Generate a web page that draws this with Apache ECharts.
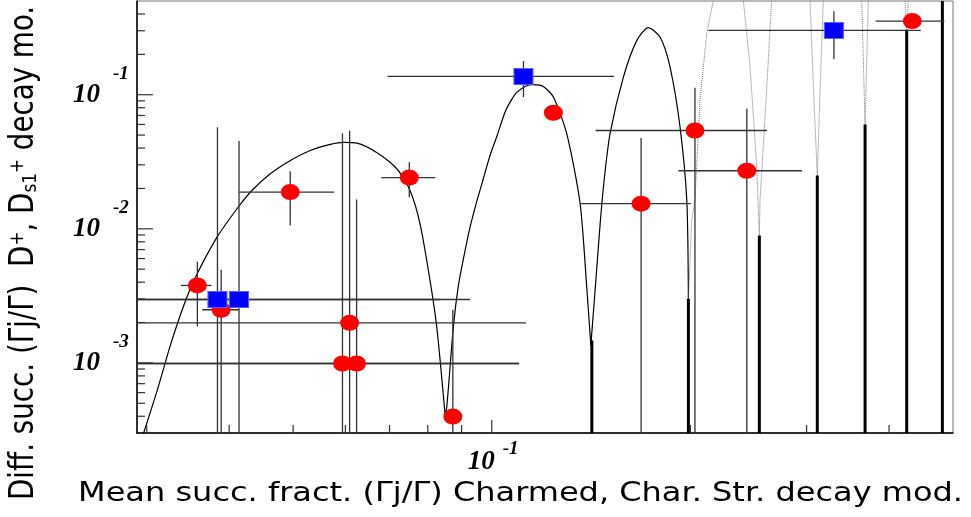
<!DOCTYPE html>
<html lang="en">
<head>
    <meta charset="UTF-8">
    <title>Diff. succ. fract.</title>
    <script src="https://cdn.jsdelivr.net/npm/echarts@6.0.0/dist/echarts.min.js"></script>
    <style>
        html, body { margin: 0; padding: 0; background: #fff; }
        #chart { width: 971px; height: 517px; }
    </style>
</head>
<body>
<div id="chart"></div>
<script>
    var xMin = 0.029, xMax = 0.5;
    var yMin = 0.0003, yMax = 0.5;

    // x, y, x low, x high, y low, y high
    var redPoints = [
        [0.0358, 0.00378, 0.0338, 0.0376, 0.00187, 0.0057],
        [0.0389, 0.00249, 0.0364, 0.0414, 0.0001, 0.00494],
        [0.0495, 0.0188, 0.0414, 0.0577, 0.0106, 0.0269],
        [0.0609, 0.00199, 0.02, 0.1127, 0.0001, 0.0542],
        [0.0594, 0.00099, 0.02, 0.1100, 0.0001, 0.0517],
        [0.0624, 0.00099, 0.02, 0.1100, 0.0001, 0.01655],
        [0.0750, 0.0241, 0.0680, 0.0821, 0.0172, 0.0313],
        [0.0873, 0.000398, 0.0873, 0.0873, 0.0001, 0.00249],
        [0.1240, 0.0734, 0.1240, 0.1240, 0.0734, 0.0734],
        [0.1684, 0.0154, 0.1364, 0.2002, 0.0001, 0.0475],
        [0.2032, 0.0541, 0.1437, 0.2613, 0.0001, 0.1127],
        [0.2435, 0.0271, 0.1918, 0.2952, 0.0001, 0.0786],
        [0.4338, 0.3541, 0.3818, 0.4852, 0.3541, 0.3541]
    ];
    var bluePoints = [
        [0.0384, 0.00297, 0.02, 0.0835, 0.0001, 0.0573],
        [0.0414, 0.00297, 0.02, 0.0927, 0.0001, 0.0451],
        [0.1117, 0.1369, 0.0695, 0.1532, 0.0960, 0.1781],
        [0.3300, 0.3019, 0.2129, 0.4467, 0.1844, 0.4186]
    ];

    // thick spikes at the zeros of the curve
    var spikeX = [0.1418, 0.1986, 0.2544, 0.3114, 0.3679, 0.4254, 0.4818];
    var spikeTop = [0.00147, 0.00300, 0.00891, 0.02498, 0.06005, 0.3055, 0.6];

    // curve, one arch at a time
    var arch1 = [[0.02965, 0.000295], [0.03111, 0.000621], [0.03258, 0.00135], [0.03414, 0.00268],
        [0.03555, 0.00433], [0.03834, 0.00866], [0.04135, 0.01467], [0.04331, 0.01931],
        [0.04617, 0.02572], [0.04953, 0.03234], [0.05310, 0.03839], [0.05693, 0.04257],
        [0.05966, 0.04406], [0.06249, 0.04353], [0.06700, 0.03692], [0.07180, 0.02804],
        [0.07519, 0.01931], [0.07786, 0.01090], [0.08063, 0.00411], [0.08255, 0.00184],
        [0.08495, 0.000418]];
    var arch2 = [[0.08495, 0.000418], [0.08546, 0.000466], [0.08745, 0.00184], [0.08901, 0.00378],
        [0.09079, 0.00632], [0.09271, 0.01028], [0.09500, 0.01627], [0.09712, 0.02373],
        [0.09940, 0.03524], [0.1019, 0.04969], [0.1047, 0.07378], [0.1070, 0.09067],
        [0.1091, 0.1040], [0.1127, 0.1163], [0.1156, 0.1188], [0.1197, 0.1153],
        [0.1240, 0.0960], [0.1299, 0.0512], [0.1361, 0.01545], [0.1393, 0.00367],
        [0.1413, 0.00135]];
    var arch3 = [[0.1413, 0.00135], [0.1436, 0.00378], [0.1459, 0.01058],
        [0.1480, 0.0229], [0.1511, 0.0512], [0.1583, 0.1353], [0.1659, 0.2542],
        [0.1727, 0.3162], [0.1799, 0.2691], [0.1863, 0.1607], [0.1929, 0.0573],
        [0.1975, 0.01627], [0.1986, 0.00292]];
    var arch4 = [[0.1986, 0.00292], [0.2009, 0.01153], [0.2032, 0.01627], [0.2068, 0.0907],
        [0.2117, 0.2852], [0.2167, 0.506], [0.228, 1.0], [0.2406, 0.506],
        [0.2463, 0.1607], [0.2521, 0.0288], [0.2544, 0.00891]];
    var arch5 = [[0.2544, 0.00891], [0.2550, 0.01627], [0.2604, 0.0907], [0.2656, 0.506],
        [0.2831, 1.0], [0.3036, 0.506], [0.3078, 0.0907], [0.3114, 0.02498]];
    var arch6 = [[0.3114, 0.02498], [0.3144, 0.1077], [0.3180, 0.506], [0.3394, 1.0],
        [0.3636, 0.506], [0.3679, 0.0600]];
    var arch7 = [[0.3679, 0.0600], [0.3721, 0.506], [0.3958, 1.2], [0.4229, 0.506], [0.4254, 0.3055]];
    var arch8 = [[0.4254, 0.3055], [0.4278, 0.506], [0.435, 1.0]];

    var xMajorTicks = [0.1];
    var xMinorTicks = [0.03, 0.04, 0.05, 0.06, 0.07, 0.08, 0.09, 0.2, 0.3, 0.4];
    var yMajorTicks = [0.001, 0.01, 0.1];
    var yMinorTicks = [0.0004, 0.0005, 0.0006, 0.0007, 0.0008, 0.0009,
        0.002, 0.003, 0.004, 0.005, 0.006, 0.007, 0.008, 0.009,
        0.02, 0.03, 0.04, 0.05, 0.06, 0.07, 0.08, 0.09,
        0.2, 0.3, 0.4];

    var xTitle = 'Mean succ. fract. (\u0393j/\u0393) Charmed, Char. Str. decay mod.';
    var yTitle = '{n|Diff. succ. (\u0393j/\u0393)  D}{sup|+}{n|, D}{sub|s1}{sup|+}{n| decay mo.}';

    function line(x1, y1, x2, y2, color, w) {
        return {type: 'line', shape: {x1: x1, y1: y1, x2: x2, y2: y2},
            style: {stroke: color, lineWidth: w}};
    }

    function numText(str, x, y, size, align) {
        return {type: 'text', x: x, y: y,
            style: {text: str, fontSize: size, fontFamily: 'Liberation Serif', fontWeight: 'bold',
                fontStyle: 'italic', fill: '#000', align: align, verticalAlign: 'middle'}};
    }

    function renderErrors(params, api) {
        var cs = params.coordSys;
        var c = api.coord([api.value(0), api.value(1)]);
        var l = api.coord([api.value(2), api.value(1)]);
        var r = api.coord([api.value(3), api.value(1)]);
        var lo = api.coord([api.value(0), api.value(4)]);
        var hi = api.coord([api.value(0), api.value(5)]);
        var x0 = Math.max(cs.x, l[0]), x1 = Math.min(cs.x + cs.width, r[0]);
        var y0 = Math.min(cs.y + cs.height, lo[1]), y1 = Math.max(cs.y, hi[1]);
        var kids = [];
        if (x1 - x0 > 0.5) kids.push(line(x0, c[1], x1, c[1], '#333', 1.3));
        if (y0 - y1 > 0.5) kids.push(line(c[0], y0, c[0], y1, '#333', 1.3));
        return {type: 'group', children: kids};
    }

    function renderSpike(params, api) {
        var cs = params.coordSys;
        var p = api.coord([api.value(0), api.value(1)]);
        var top = Math.max(cs.y, p[1]);
        return {type: 'rect', shape: {x: p[0] - 1.5, y: top, width: 3, height: cs.y + cs.height - top},
            style: {fill: '#000'}};
    }

    function tickRenderer(axis, len) {
        return function (params, api) {
            var p = api.coord([api.value(0), api.value(1)]);
            if (axis === 'x') return line(p[0], p[1], p[0], p[1] - len, '#333', 1.2);
            return line(p[0], p[1], p[0] + len, p[1], '#333', 1.2);
        };
    }

    // "10" with a raised exponent, ROOT style
    function labelRenderer(axis) {
        return function (params, api) {
            var v = axis === 'x' ? api.value(0) : api.value(1);
            var p = api.coord([api.value(0), api.value(1)]);
            var e = '' + Math.round(Math.log(v) / Math.LN10);
            if (axis === 'x') {
                return {type: 'group', children: [
                    numText('10', p[0] + 3, p[1] + 29, 27, 'right'),
                    numText(e, p[0] + 11, p[1] + 16, 19, 'left')
                ]};
            }
            return {type: 'group', children: [
                numText('10', p[0] - 37, p[1], 27, 'right'),
                numText(e, p[0] - 24, p[1] - 21, 19, 'left')
            ]};
        };
    }

    function curveSeries(data, dotted) {
        return {
            type: 'line', data: data, showSymbol: false, silent: true,
            smooth: dotted ? false : 0.25,
            lineStyle: dotted ? {color: '#777', width: 1, type: 'dotted'} : {color: '#000', width: 1.2},
            z: 2
        };
    }

    function tickSeries(data, renderItem) {
        return {type: 'custom', silent: true, clip: false, z: 7, encode: {x: 0, y: 1},
            data: data, renderItem: renderItem};
    }

    var myChart = echarts.init(document.getElementById('chart'));
    var option = {
        animation: false,
        backgroundColor: '#fff',
        grid: {left: 137, right: 18, top: 1, bottom: 84, show: true, borderColor: '#777', borderWidth: 1,
            containLabel: false, outerBoundsMode: 'none'},
        xAxis: {
            type: 'log', logBase: 10, min: xMin, max: xMax,
            axisLine: {show: true, lineStyle: {color: '#000', width: 1.5}},
            axisTick: {show: false}, splitLine: {show: false}, minorTick: {show: false},
            axisLabel: {show: false}
        },
        yAxis: {
            type: 'log', logBase: 10, min: yMin, max: yMax,
            axisLine: {show: true, lineStyle: {color: '#000', width: 1.5}},
            axisTick: {show: false}, splitLine: {show: false}, minorTick: {show: false},
            axisLabel: {show: false}
        },
        series: [
            curveSeries(arch1, false),
            curveSeries(arch2, false),
            curveSeries(arch3, false),
            curveSeries(arch4, true),
            curveSeries(arch5, true),
            curveSeries(arch6, true),
            curveSeries(arch7, true),
            curveSeries(arch8, true),
            {
                type: 'custom', silent: true, z: 3,
                data: spikeX.map(function (x, i) { return [x, spikeTop[i]]; }),
                encode: {x: 0, y: 1}, renderItem: renderSpike
            },
            {
                type: 'custom', silent: true, z: 4,
                data: redPoints.concat(bluePoints),
                encode: {x: 0, y: 1}, renderItem: renderErrors
            },
            {
                type: 'scatter', z: 5, data: redPoints, encode: {x: 0, y: 1},
                symbol: 'circle', symbolSize: [19, 16],
                itemStyle: {color: '#ff0000', opacity: 1}
            },
            {
                type: 'scatter', z: 6, data: bluePoints, encode: {x: 0, y: 1},
                symbol: 'rect', symbolSize: [19, 16],
                itemStyle: {color: '#0000ff', borderColor: '#5a5aff', borderWidth: 1, opacity: 1}
            },
            tickSeries(xMajorTicks.map(function (v) { return [v, yMin]; }), tickRenderer('x', 13)),
            tickSeries(xMinorTicks.map(function (v) { return [v, yMin]; }), tickRenderer('x', 8)),
            tickSeries(yMajorTicks.map(function (v) { return [xMin, v]; }), tickRenderer('y', 16)),
            tickSeries(yMinorTicks.map(function (v) { return [xMin, v]; }), tickRenderer('y', 8)),
            tickSeries(xMajorTicks.map(function (v) { return [v, yMin]; }), labelRenderer('x')),
            tickSeries(yMajorTicks.map(function (v) { return [xMin, v]; }), labelRenderer('y'))
        ],
        graphic: [
            {
                type: 'text', x: 963, y: 494, scaleY: 0.84, silent: true,
                style: {text: xTitle, fontSize: 32, fontFamily: 'DejaVu Sans', fill: '#000',
                    align: 'right', verticalAlign: 'middle'}
            },
            {
                type: 'text', x: 24, y: 500, rotation: Math.PI / 2, scaleX: 0.84, silent: true,
                style: {
                    text: yTitle, fill: '#000', align: 'left', verticalAlign: 'middle',
                    rich: {
                        n: {fontSize: 33, fontFamily: 'DejaVu Sans', fill: '#000'},
                        sup: {fontSize: 20, fontFamily: 'DejaVu Sans', fill: '#000', verticalAlign: 'top', lineHeight: 20},
                        sub: {fontSize: 20, fontFamily: 'DejaVu Sans', fill: '#000', verticalAlign: 'bottom', lineHeight: 20}
                    }
                }
            }
        ]
    };
    myChart.setOption(option);
</script>
</body>
</html>
